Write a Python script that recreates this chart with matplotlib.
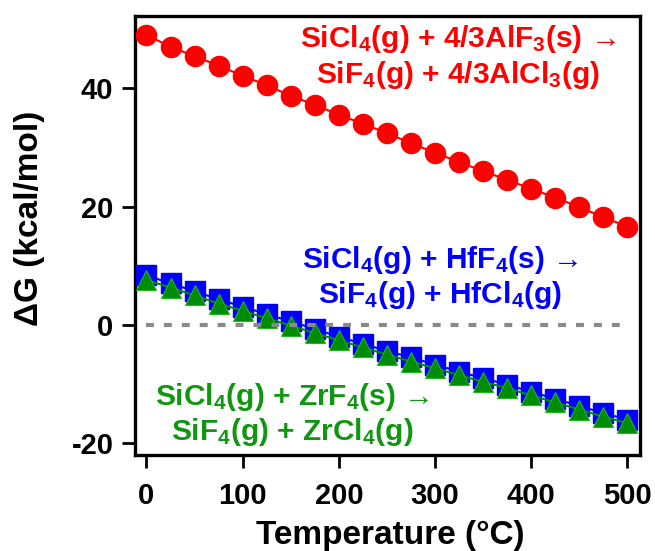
import matplotlib
matplotlib.use("agg")
import matplotlib.pyplot as plt

plt.rcParams["font.family"] = ["Liberation Sans", "DejaVu Sans"]
plt.rcParams["font.weight"] = "bold"
plt.rcParams["mathtext.fontset"] = "custom"
plt.rcParams["mathtext.rm"] = "Liberation Sans:bold"
plt.rcParams["mathtext.it"] = "Liberation Sans:bold"
plt.rcParams["mathtext.bf"] = "Liberation Sans:bold"
plt.rcParams["axes.unicode_minus"] = False

# data
temp = [0, 25, 50, 75, 100, 125, 150, 175, 200, 225, 250,
        275, 300, 325, 350, 375, 400, 425, 450, 475, 500]
dg_al = [49.0, 47.0, 45.4, 43.8, 42.1, 40.5, 38.7, 37.2, 35.5, 34.0, 32.4,
         30.7, 29.1, 27.5, 26.0, 24.5, 23.0, 21.5, 19.9, 18.2, 16.6]
dg_hf = [8.4, 7.0, 5.7, 4.3, 3.1, 1.8, 0.6, -0.7, -2.0, -3.2, -4.4,
         -5.5, -6.7, -7.9, -9.0, -10.1, -11.3, -12.5, -13.7, -14.9, -16.0]
dg_zr = [7.6, 6.3, 5.0, 3.6, 2.4, 1.1, -0.1, -1.4, -2.6, -3.8, -5.0,
         -6.2, -7.3, -8.5, -9.6, -10.7, -11.9, -13.1, -14.3, -15.5, -16.6]

fig = plt.figure(figsize=(6.55, 5.51), dpi=100)
ax = fig.add_axes([0.206, 0.174, 0.771, 0.797])

ax.plot(temp, dg_al, color="red", lw=1.5, marker="o", ms=14.5, zorder=3)
ax.plot(temp, dg_hf, color="blue", lw=1.5, marker="s", ms=15, zorder=3)
ax.plot(temp, dg_zr, color="#008c00", lw=1.5, marker="^", ms=15,
        markeredgecolor="#22b422", markeredgewidth=0.8, zorder=4)
ax.plot([0, 495], [0, 0], color="#8a8a8a", lw=3, ls=(0, (1.9, 2.4)), zorder=5)

ax.set_xlim(-12, 513)
ax.set_ylim(-22, 52.2)
ax.set_xticks([0, 100, 200, 300, 400, 500])
ax.set_yticks([-20, 0, 20, 40])
ax.tick_params(direction="out", length=9.5, width=2, labelsize=21)
ax.tick_params(axis="x", pad=10)
ax.tick_params(axis="y", pad=6)
for sp in ax.spines.values():
    sp.set_linewidth(2.4)

ax.set_xlabel("Temperature (°C)", fontsize=24, fontweight="bold")
ax.set_ylabel("ΔG (kcal/mol)", fontsize=24, fontweight="bold")
ax.xaxis.set_label_coords(0.505, -0.148)
ax.yaxis.set_label_coords(-0.178, 0.54)

# reaction labels
txt = dict(fontsize=21.5, fontweight="bold", ha="center", va="baseline")
ax.text(324, 46.9, "SiCl$_4$(g) + 4/3AlF$_3$(s) →", color="red", **txt)
ax.text(324, 40.9, "SiF$_4$(g) + 4/3AlCl$_3$(g)", color="red", **txt)
ax.text(305, 9.6, "SiCl$_4$(g) + HfF$_4$(s) →", color="blue", **txt)
ax.text(305, 3.7, "SiF$_4$(g) + HfCl$_4$(g)", color="blue", **txt)
ax.text(152, -13.5, "SiCl$_4$(g) + ZrF$_4$(s) →", color="#119611", **txt)
ax.text(152, -19.4, "SiF$_4$(g) + ZrCl$_4$(g)", color="#119611", **txt)

fig.savefig("out.png", dpi=100)
